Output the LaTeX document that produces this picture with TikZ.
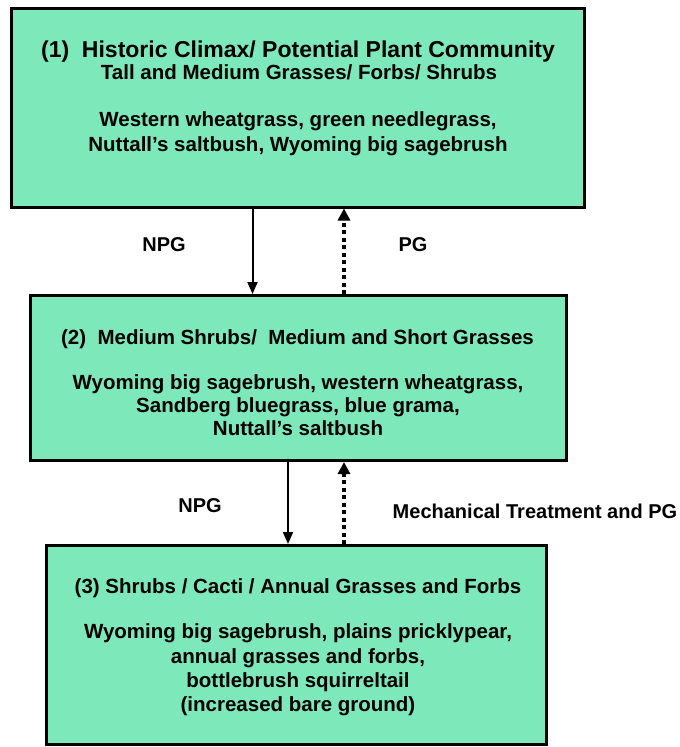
\documentclass[tikz,border=0pt]{standalone}
\usepackage{fontspec}
\setmainfont{Liberation Sans}
\usetikzlibrary{arrows.meta}
\definecolor{mint}{RGB}{125,233,187}
\tikzset{
  x=1pt, y=-1pt,
  box/.style={draw=black, line width=3pt, fill=mint, rectangle, inner sep=0pt},
  big/.style={font=\bfseries\fontsize{23}{26}\selectfont, inner sep=0pt, anchor=base},
  txt/.style={font=\bfseries\fontsize{20.5}{24}\selectfont, inner sep=0pt, anchor=base},
  lbl/.style={font=\bfseries\fontsize{20}{24}\selectfont, inner sep=0pt, anchor=base},
  solidarrow/.style={line width=2pt, -{Triangle[length=12pt,width=10pt]}},
  dasharrow/.style={line width=3.2pt, dash pattern=on 4pt off 3.5pt, -{Triangle[length=12pt,width=12pt]}}
}
\begin{document}
\begin{tikzpicture}
\useasboundingbox (0,0) rectangle (680,747);
\node[box, minimum width=573pt, minimum height=199pt] (b1) at (297.5,107.5) {};
\node[box, minimum width=536pt, minimum height=165pt] (b2) at (298,378) {};
\node[box, minimum width=500pt, minimum height=199pt] (b3) at (296,645) {};

\node[big] (t11) at (298,57) {(1)\ \ Historic Climax/ Potential Plant Community};
\node[txt] (t12) at (299,79) {Tall and Medium Grasses/ Forbs/ Shrubs};
\node[txt] (t13) at (298,126) {Western wheatgrass, green needlegrass,};
\node[txt] (t14) at (298,151) {Nuttall's saltbush, Wyoming big sagebrush};

\node[txt] (t21) at (297.5,344) {(2)\ \ Medium Shrubs/\ \ Medium and Short Grasses};
\node[txt] (t22) at (298,389) {Wyoming big sagebrush, western wheatgrass,};
\node[txt] (t23) at (298,412) {Sandberg bluegrass, blue grama,};
\node[txt] (t24) at (298,435) {Nuttall's saltbush};

\node[txt] (t31) at (298,593) {(3) Shrubs / Cacti / Annual Grasses and Forbs};
\node[txt] (t32) at (298,638) {Wyoming big sagebrush, plains pricklypear,};
\node[txt] (t33) at (298,663) {annual grasses and forbs,};
\node[txt] (t34) at (298,687) {bottlebrush squirreltail};
\node[txt] (t35) at (298,711) {(increased bare ground)};

\coordinate (x1) at (252.5,0);
\coordinate (x2) at (344,0);
\coordinate (x3) at (288,0);
\draw[solidarrow] (b1.south -| x1) -- (b2.north -| x1);
\draw[dasharrow] (b2.north -| x2) -- (b1.south -| x2);
\draw[solidarrow] (b2.south -| x3) -- (b3.north -| x3);
\draw[dasharrow] (b3.north -| x2) -- (b2.south -| x2);

\node[lbl] (l1) at (164,251) {NPG};
\node[lbl] (l2) at (413,251) {PG};
\node[lbl] (l3) at (200,512) {NPG};
\node[lbl] (l4) at (535,518) {Mechanical Treatment and PG};
\end{tikzpicture}
\end{document}
